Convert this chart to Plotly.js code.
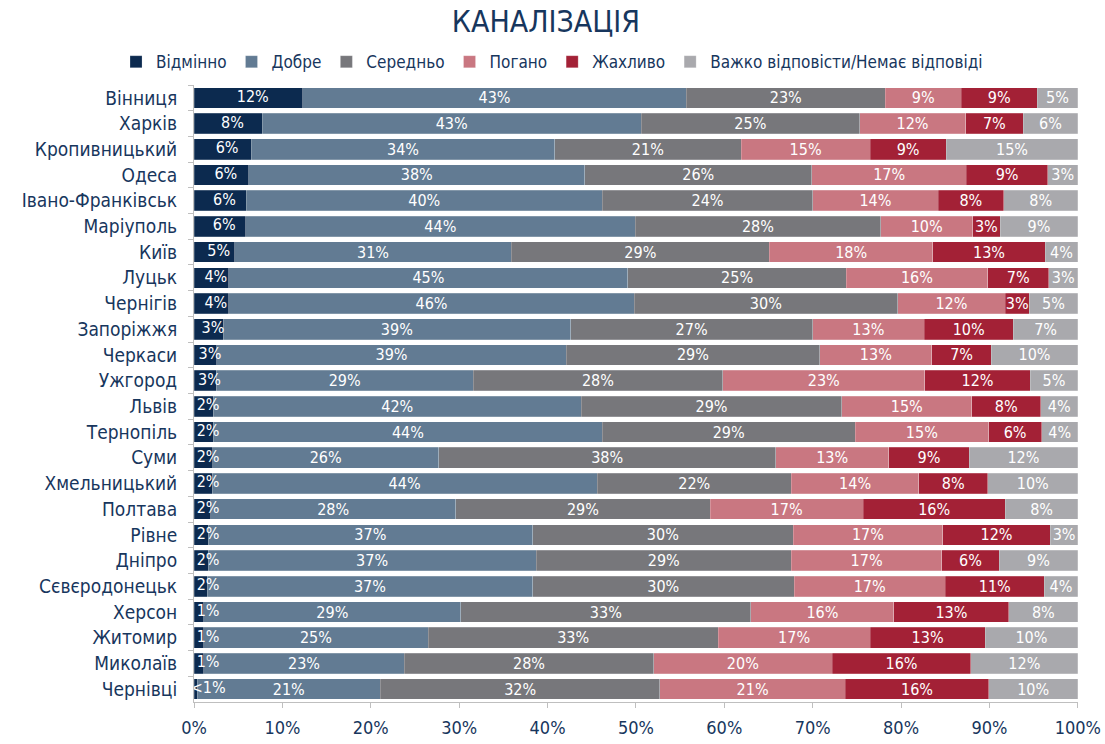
<!DOCTYPE html>
<html>
<head>
<meta charset="utf-8">
<script src="https://cdn.plot.ly/plotly-3.0.1.min.js"></script>
<style>html,body{margin:0;padding:0;background:#fff;}#chart{width:1105px;height:744px;}</style>
</head>
<body>
<div id="chart"></div>
<script>
var cities = ["Вінниця","Харків","Кропивницький","Одеса","Івано-Франківськ","Маріуполь","Київ","Луцьк","Чернігів","Запоріжжя","Черкаси","Ужгород","Львів","Тернопіль","Суми","Хмельницький","Полтава","Рівне","Дніпро","Сєвєродонецьк","Херсон","Житомир","Миколаїв","Чернівці"];

var seriesNames = ["Відмінно","Добре","Середньо","Погано","Жахливо","Важко відповісти/Немає відповіді"];
var seriesColors = ["#0c2a4f","#627b93","#77777b","#c97781","#a32136","#a9a9ad"];

// values (%)
var vidminno = [12.3,7.7,6.5,6.2,5.9,5.85,4.6,3.95,3.95,3.3,2.6,2.5,2.2,2.2,2.1,2.05,1.9,1.6,1.6,1.5,1.1,1.1,1.1,0.35];
var dobre    = [43.4,42.9,34.3,38.0,40.3,44.05,31.3,45.15,45.85,39.3,39.5,29.1,41.6,44.0,25.6,43.55,27.7,36.7,37.1,36.8,29.1,25.4,22.7,20.75];
var serednio = [22.5,24.7,21.1,25.7,23.8,27.8,29.2,24.7,29.8,27.4,28.7,28.2,29.5,28.6,38.1,22.0,28.8,29.5,28.9,29.6,32.8,32.8,28.2,31.6];
var pohano   = [8.6,12.0,14.6,17.5,14.2,10.4,18.5,16.0,12.2,12.6,12.7,22.9,14.7,15.1,12.8,14.4,17.3,16.9,17.0,17.1,16.2,17.2,20.2,21.0];
var zhakhlyvo= [8.6,6.5,8.6,9.2,7.4,3.1,12.7,6.9,2.7,10.1,6.7,11.9,7.8,6.0,9.1,7.8,16.1,12.2,6.5,11.2,13.0,13.0,15.7,16.2];
var vazhko   = [4.6,6.2,14.9,3.4,8.4,8.8,3.7,3.3,5.5,7.3,9.8,5.4,4.2,4.1,12.3,10.2,8.2,3.1,8.9,3.8,7.8,10.5,12.1,10.1];

// printed labels (%)
var lblVidminno = ["12","8","6","6","6","6","5","4","4","3","3","3","2","2","2","2","2","2","2","2","1","1","1","<1"];
var lblDobre    = [43,43,34,38,40,44,31,45,46,39,39,29,42,44,26,44,28,37,37,37,29,25,23,21];
var lblSerednio = [23,25,21,26,24,28,29,25,30,27,29,28,29,29,38,22,29,30,29,30,33,33,28,32];
var lblPohano   = [9,12,15,17,14,10,18,16,12,13,13,23,15,15,13,14,17,17,17,17,16,17,20,21];
var lblZhakh    = [9,7,9,9,8,3,13,7,3,10,7,12,8,6,9,8,16,12,6,11,13,13,16,16];
var lblVazhko   = [5,6,15,3,8,9,4,3,5,7,10,5,4,4,12,10,8,3,9,4,8,10,12,10];

var allValues = [vidminno,dobre,serednio,pohano,zhakhlyvo,vazhko];
var allLabels = [lblVidminno,lblDobre,lblSerednio,lblPohano,lblZhakh,lblVazhko];

var FONT = "'DejaVu Sans Condensed', 'DejaVu Sans', sans-serif";
var NAVY = "#17365d";

function esc(s){ return String(s).replace(/</g,"&lt;"); }
function pct(arr){ return arr.map(function(v){ return esc(v) + "%"; }); }

var traces = seriesNames.map(function(name, i){
  return {
    type: "bar",
    orientation: "h",
    name: name,
    y: cities,
    x: allValues[i],
    text: i === 0 ? null : pct(allLabels[i]),
    textposition: i === 0 ? "none" : "inside",
    insidetextanchor: "middle",
    constraintext: "none",
    textangle: 0,
    cliponaxis: false,
    textfont: {family: FONT, size: 16, color: "#ffffff"},
    marker: {color: seriesColors[i], line: {width: 0.6, color: "rgba(255,255,255,0.35)"}},
    hoverinfo: "name+x"
  };
});

// labels of the first series drawn on top so they may overflow the narrow segments
traces.push({
  type: "scatter",
  mode: "text",
  y: cities,
  x: vidminno.map(function(v){ return Math.max(v / 2 + 0.5, 1.6); }),
  text: pct(lblVidminno),
  textposition: "middle center",
  textfont: {family: FONT, size: 16, color: "#ffffff"},
  showlegend: false,
  hoverinfo: "skip",
  cliponaxis: false
});

var layout = {
  width: 1105,
  height: 744,
  paper_bgcolor: "#ffffff",
  plot_bgcolor: "#ffffff",
  barmode: "stack",
  bargap: 0.2,
  margin: {l: 194, r: 27, t: 85, b: 42, pad: 0, autoexpand: false},
  title: {
    text: "КАНАЛІЗАЦІЯ",
    x: 0.494, xref: "container", xanchor: "center",
    y: 0.971, yref: "container", yanchor: "middle",
    font: {family: FONT, size: 30, color: NAVY}
  },
  showlegend: true,
  legend: {
    orientation: "h",
    x: 0.405, xanchor: "center",
    y: 1.037, yanchor: "middle",
    traceorder: "normal",
    font: {family: FONT, size: 17, color: NAVY},
    itemwidth: 30,
    bgcolor: "rgba(0,0,0,0)"
  },
  xaxis: {
    range: [0, 100.02],
    dtick: 10,
    tick0: 0,
    ticksuffix: "%",
    showgrid: false,
    zeroline: false,
    showline: true,
    linecolor: "#bfbfbf",
    linewidth: 1,
    ticks: "outside",
    ticklen: 5,
    tickcolor: "#bfbfbf",
    ticklabelstandoff: 4,
    tickfont: {family: FONT, size: 18, color: NAVY},
    automargin: false,
    fixedrange: true
  },
  yaxis: {
    type: "category",
    categoryorder: "array",
    categoryarray: cities,
    autorange: false,
    range: [cities.length - 0.5, -0.5],
    showgrid: false,
    zeroline: false,
    showline: true,
    linecolor: "#bfbfbf",
    linewidth: 1,
    ticks: "outside",
    tickson: "boundaries",
    ticklen: 5,
    tickcolor: "#bfbfbf",
    ticklabelstandoff: 12,
    tickfont: {family: FONT, size: 19, color: NAVY},
    automargin: false,
    fixedrange: true
  }
};

Plotly.newPlot("chart", traces, layout, {displayModeBar: false, staticPlot: true});
</script>
</body>
</html>
